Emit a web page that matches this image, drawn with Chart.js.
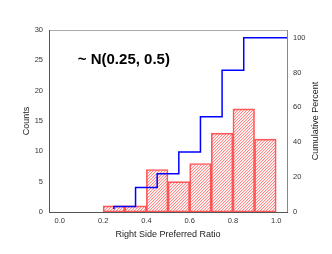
<!DOCTYPE html>
<html><head><meta charset="utf-8">
<script src="https://cdn.jsdelivr.net/npm/chart.js@4/dist/chart.umd.min.js"></script>
<style>html,body{margin:0;padding:0;background:#fff;overflow:hidden;}</style>
</head><body>
<canvas id="c" width="332" height="254"></canvas>
<script>
// ---- data ----
const binCenters = [0.25, 0.35, 0.45, 0.55, 0.65, 0.75, 0.85, 0.95];
const counts = [1, 1, 7, 5, 8, 13, 17, 12];
const xTicks = [0.0, 0.2, 0.4, 0.6, 0.8, 1.0];
const countTicks = [0, 5, 10, 15, 20, 25, 30];
const pctTicks = [0, 20, 40, 60, 80, 100];
const xRange = [-0.05, 1.05];
const countRange = [0, 30];
const pctRange = [0, 104.4];
const xTitle = 'Right Side Preferred Ratio';
const leftTitle = 'Counts';
const rightTitle = 'Cumulative Percent';
const annotationText = '~ N(0.25, 0.5)';
const annotationAt = { x: 0.083, y: 25 };

// cumulative percent (step line), extended to the right edge of the axis
const total = counts.reduce((a, b) => a + b, 0);
let run = 0;
const cumPct = counts.map(c => { run += c; return run / total * 100; });
const cumPoints = binCenters.map((x, i) => ({ x, y: cumPct[i] }));
cumPoints.push({ x: xRange[1], y: cumPct[cumPct.length - 1] });

const FONT = '"Liberation Sans", Arial, Helvetica, sans-serif';

function hatchPattern() {
  const n = 3;
  const c = document.createElement('canvas');
  c.width = n; c.height = n;
  const g = c.getContext('2d');
  const img = g.createImageData(n, n);
  for (let y = 0; y < n; y++) for (let x = 0; x < n; x++) {
    const k = (y * n + x) * 4;
    const m = (x + y) % n;
    let a = 0;
    if (m === n - 1) a = 170; else if (m === 0) a = 50;
    img.data[k] = 255; img.data[k + 1] = 80; img.data[k + 2] = 80; img.data[k + 3] = a;
  }
  g.putImageData(img, 0, 0);
  return document.getElementById('c').getContext('2d').createPattern(c, 'repeat');
}

const decor = {
  id: 'decor',
  afterDraw(chart) {
    const { ctx, chartArea: a, scales } = chart;
    ctx.save();
    // frame
    ctx.lineWidth = 1;
    ctx.strokeStyle = '#aaaaaa';
    ctx.beginPath(); ctx.moveTo(a.left, a.top + 0.5); ctx.lineTo(a.right, a.top + 0.5); ctx.stroke();
    ctx.strokeStyle = '#888888';
    ctx.beginPath(); ctx.moveTo(a.right + 0.5, a.top); ctx.lineTo(a.right + 0.5, a.bottom); ctx.stroke();
    ctx.strokeStyle = '#555555';
    ctx.beginPath(); ctx.moveTo(a.left + 0.5, a.top); ctx.lineTo(a.left + 0.5, a.bottom + 0.5); ctx.stroke();
    ctx.beginPath(); ctx.moveTo(a.left, a.bottom + 0.5); ctx.lineTo(a.right + 1, a.bottom + 0.5); ctx.stroke();
    // right title (reads bottom-to-top)
    ctx.fillStyle = '#222';
    ctx.font = '9px ' + FONT;
    ctx.textAlign = 'center'; ctx.textBaseline = 'middle';
    ctx.translate(316, (a.top + a.bottom) / 2);
    ctx.rotate(-Math.PI / 2);
    ctx.fillText(rightTitle, 0, 0);
    ctx.restore();
    // annotation
    ctx.save();
    ctx.fillStyle = '#000';
    ctx.font = 'bold 15px ' + FONT;
    ctx.textAlign = 'left'; ctx.textBaseline = 'middle';
    ctx.fillText(annotationText, scales.x.getPixelForValue(annotationAt.x), scales.y.getPixelForValue(annotationAt.y));
    ctx.restore();
  }
};

const tickFont = { family: FONT, size: 7.5 };
const titleFont = { family: FONT, size: 9 };

new Chart(document.getElementById('c'), {
  type: 'bar',
  data: {
    datasets: [
      {
        type: 'line',
        data: cumPoints,
        yAxisID: 'y2',
        stepped: 'after',
        borderColor: '#0000ff',
        borderWidth: 1.5,
        pointRadius: 0,
        fill: false,
        order: 0
      },
      {
        type: 'bar',
        data: binCenters.map((x, i) => ({ x, y: counts[i] })),
        yAxisID: 'y',
        backgroundColor: hatchPattern(),
        borderColor: 'rgba(255,60,60,0.85)',
        borderWidth: 1,
        borderSkipped: false,
        barPercentage: 1,
        categoryPercentage: 1,
        order: 1
      }
    ]
  },
  options: {
    responsive: false,
    animation: false,
    devicePixelRatio: 1,
    layout: { padding: { top: 30, left: 0, right: 0, bottom: 0 } },
    plugins: { legend: { display: false }, tooltip: { enabled: false } },
    scales: {
      x: {
        type: 'linear', position: 'bottom', offset: false,
        min: xRange[0], max: xRange[1],
        afterBuildTicks: s => { s.ticks = xTicks.map(v => ({ value: v })); },
        afterFit: s => { s.height = 42; },
        grid: { display: false, drawTicks: false },
        border: { display: false },
        ticks: { font: tickFont, color: '#333', padding: 4, maxRotation: 0, autoSkip: false,
                 callback: v => Number(v).toFixed(1) },
        title: { display: true, text: xTitle, font: titleFont, color: '#222', padding: { top: 0, bottom: 14 } }
      },
      y: {
        type: 'linear', position: 'left',
        min: countRange[0], max: countRange[1],
        afterBuildTicks: s => { s.ticks = countTicks.map(v => ({ value: v })); },
        afterFit: s => { s.width = 49; },
        grid: { display: false, drawTicks: false },
        border: { display: false },
        ticks: { font: tickFont, color: '#333', padding: 6 },
        title: { display: true, text: leftTitle, font: titleFont, color: '#222', padding: { top: 21, bottom: 0 } }
      },
      y2: {
        type: 'linear', position: 'right',
        min: pctRange[0], max: pctRange[1],
        afterBuildTicks: s => { s.ticks = pctTicks.map(v => ({ value: v })); },
        afterFit: s => { s.width = 45; },
        grid: { display: false, drawTicks: false },
        border: { display: false },
        ticks: { font: tickFont, color: '#333', padding: 6 },
        title: { display: false }
      }
    }
  },
  plugins: [decor]
});
</script>
</body></html>
